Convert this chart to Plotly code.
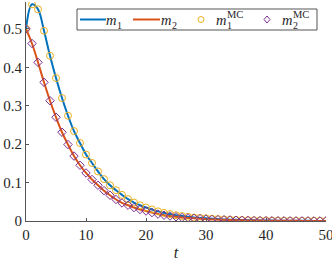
import plotly.graph_objects as go

t = list(range(0, 51))

m1 = [0.500, 0.564, 0.551, 0.495, 0.430, 0.372, 0.320, 0.274, 0.234, 0.203,
      0.173, 0.151, 0.129, 0.109, 0.093, 0.080, 0.068, 0.057, 0.048, 0.041,
      0.035, 0.030, 0.025, 0.021, 0.018, 0.015, 0.013, 0.011, 0.009, 0.008,
      0.007, 0.006, 0.005, 0.004, 0.0035, 0.003, 0.0025, 0.002, 0.0017, 0.0014,
      0.0012, 0.001, 0.0009, 0.0007, 0.0006, 0.0005, 0.0004, 0.0004, 0.0003, 0.0003,
      0.0002]

m2 = [0.500, 0.462, 0.413, 0.361, 0.313, 0.270, 0.231, 0.199, 0.169, 0.145,
      0.125, 0.108, 0.093, 0.079, 0.067, 0.056, 0.047, 0.041, 0.035, 0.030,
      0.026, 0.022, 0.018, 0.015, 0.013, 0.011, 0.009, 0.008, 0.007, 0.006,
      0.005, 0.004, 0.0035, 0.003, 0.0025, 0.002, 0.0017, 0.0015, 0.0012, 0.001,
      0.0009, 0.0007, 0.0006, 0.0005, 0.0004, 0.0004, 0.0003, 0.0003, 0.0002, 0.0002,
      0.0002]

m1_mc = list(m1)
m2_mc = list(m2)

x_ticks = [0, 10, 20, 30, 40, 50]
y_ticks = [0, 0.1, 0.2, 0.3, 0.4, 0.5]
y_tick_labels = ["0", "0.1", "0.2", "0.3", "0.4", "0.5"]

BLUE = "#0072BD"
ORANGE = "#D95319"
YELLOW = "#EDB120"
PURPLE = "#7E2F8E"
TXT = "#262626"
AXC = "#555555"
FONT = "Liberation Serif"

W, H = 332, 264
ML, MR, MT, MB = 26, 6, 2, 43
PW, PH = W - ML - MR, H - MT - MB


def px(xp):
    return (xp - ML) / PW


def py(yp):
    return (H - MB - yp) / PH


fig = go.Figure()
fig.add_trace(go.Scatter(x=t, y=m1, mode="lines", line=dict(color=BLUE, width=2, shape="spline"),
                         name="m1", showlegend=False))
fig.add_trace(go.Scatter(x=t, y=m2, mode="lines", line=dict(color=ORANGE, width=2, shape="spline"),
                         name="m2", showlegend=False))
fig.add_trace(go.Scatter(x=t, y=m1_mc, mode="markers",
                         marker=dict(symbol="circle-open", color=YELLOW, size=7, line=dict(width=1)),
                         name="m1 MC", showlegend=False))
fig.add_trace(go.Scatter(x=t, y=m2_mc, mode="markers",
                         marker=dict(symbol="diamond-open", color=PURPLE, size=6.5, line=dict(width=1)),
                         name="m2 MC", showlegend=False))

# ---- hand-built legend (box, symbols, stacked sub/superscripts) ----
shapes = []
annotations = []
LY = 19.5
shapes.append(dict(type="rect", xref="paper", yref="paper", x0=px(77), x1=px(317), y0=py(30), y1=py(9),
                   line=dict(color=AXC, width=1), fillcolor="white", layer="above"))
shapes.append(dict(type="line", xref="paper", yref="paper", x0=px(80), x1=px(106), y0=py(LY), y1=py(LY),
                   line=dict(color=BLUE, width=2)))
shapes.append(dict(type="line", xref="paper", yref="paper", x0=px(133), x1=px(160), y0=py(LY), y1=py(LY),
                   line=dict(color=ORANGE, width=2)))
r = 3
shapes.append(dict(type="circle", xref="paper", yref="paper", x0=px(201 - r), x1=px(201 + r),
                   y0=py(LY + r), y1=py(LY - r), line=dict(color=YELLOW, width=1)))
dx, dy = 3, 3.5
cx = 267
shapes.append(dict(type="path", xref="paper", yref="paper",
                   path=(f"M {px(cx)} {py(LY - dy)} L {px(cx + dx)} {py(LY)} "
                         f"L {px(cx)} {py(LY + dy)} L {px(cx - dx)} {py(LY)} Z"),
                   line=dict(color=PURPLE, width=1)))


def label(xm, sub, sup=None):
    annotations.append(dict(x=px(xm), y=py(LY + 0.5), xref="paper", yref="paper", text="<i>m</i>",
                            showarrow=False, xanchor="left", yanchor="middle",
                            font=dict(family=FONT, size=14.5, color=TXT), borderpad=0, borderwidth=0))
    annotations.append(dict(x=px(xm + 10.5), y=py(LY + 0.3), xref="paper", yref="paper", text=sub,
                            showarrow=False, xanchor="left", yanchor="top",
                            font=dict(family=FONT, size=10, color=TXT), borderpad=0, borderwidth=0))
    if sup:
        annotations.append(dict(x=px(xm + 10.5), y=py(LY + 0.1), xref="paper", yref="paper", text=sup,
                                showarrow=False, xanchor="left", yanchor="bottom",
                                font=dict(family=FONT, size=10.5, color=TXT), borderpad=0, borderwidth=0))


label(106, "1")
label(161, "2")
label(216, "1", "MC")
label(282, "2", "MC")

fig.update_layout(
    width=W, height=H,
    margin=dict(l=ML, r=MR, t=MT, b=MB),
    paper_bgcolor="white", plot_bgcolor="white",
    font=dict(family=FONT, size=15, color=TXT),
    showlegend=False,
    shapes=shapes,
    annotations=annotations,
)
fig.update_xaxes(range=[0, 50], tickvals=x_ticks, ticks="inside", ticklen=3, tickcolor=AXC,
                 showline=True, linecolor=AXC, linewidth=1, showgrid=False, zeroline=False,
                 automargin=False, ticklabeloverflow="allow",
                 title=dict(text="<i>t</i>", font=dict(family=FONT, size=16, color=TXT), standoff=4),
                 tickfont=dict(family=FONT, size=15, color=TXT))
fig.update_yaxes(range=[0, 0.57], tickvals=y_ticks, ticktext=y_tick_labels, ticks="inside", ticklen=3,
                 tickcolor=AXC, showline=True, linecolor=AXC, linewidth=1, showgrid=False, zeroline=False,
                 automargin=False, ticklabeloverflow="allow",
                 tickfont=dict(family=FONT, size=15, color=TXT))

fig.write_html("out.html", config={"displayModeBar": False},
               post_script="document.body.style.margin='0';")
